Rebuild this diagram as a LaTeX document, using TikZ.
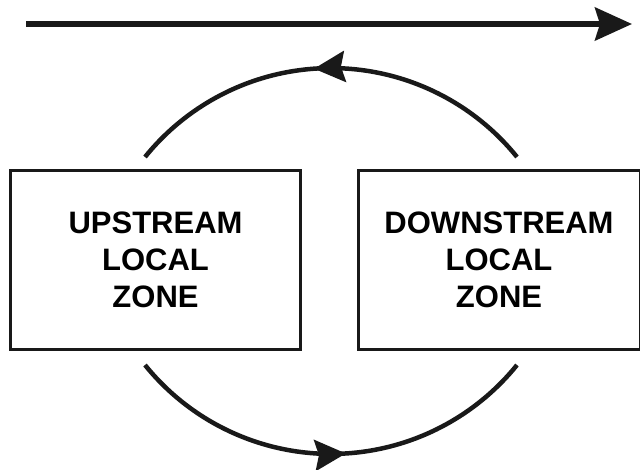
\documentclass[tikz,border=0pt]{standalone}
\usepackage{fontspec}
\setmainfont{Liberation Sans}
\usetikzlibrary{arrows.meta,decorations.markings}
\tikzset{
  zonebox/.style={draw=black!90, line width=3pt, minimum width=290pt, minimum height=179pt,
    align=center, inner sep=0pt, font=\bfseries\fontsize{31}{37}\selectfont},
  flowline/.style={line width=5.5pt, color=black!90},
  cycline/.style={line width=4.5pt, color=black!90},
  midarrow/.style={postaction={decorate, decoration={markings,
    mark=at position #1 with {\arrow{Stealth[length=31pt,width=31pt,inset=4pt]}}}}}
}
\begin{document}
\begin{tikzpicture}[x=1pt,y=-1pt]
\useasboundingbox (0,0) rectangle (640,469);
% top flow arrow
\coordinate (fs) at (26,24);
\coordinate (fe) at (632,24);
\draw[flowline, -{Stealth[length=37pt,width=33pt,inset=5pt]}] (fs) -- (fe);
% boxes
\node[zonebox] (up) at (155.5,260) {UPSTREAM\\LOCAL\\ZONE};
\node[zonebox, minimum width=282pt] (down) at (499,260) {DOWNSTREAM\\LOCAL\\ZONE};
% cycle arcs
\coordinate (tr) at (517,157);
\coordinate (bl) at (145,365);
\draw[cycline, midarrow=0.54] (tr) arc[start angle=-38.9, end angle=-141.1, radius=239];
\draw[cycline, midarrow=0.535] (bl) arc[start angle=141.1, end angle=38.9, radius=239];
\end{tikzpicture}
\end{document}
